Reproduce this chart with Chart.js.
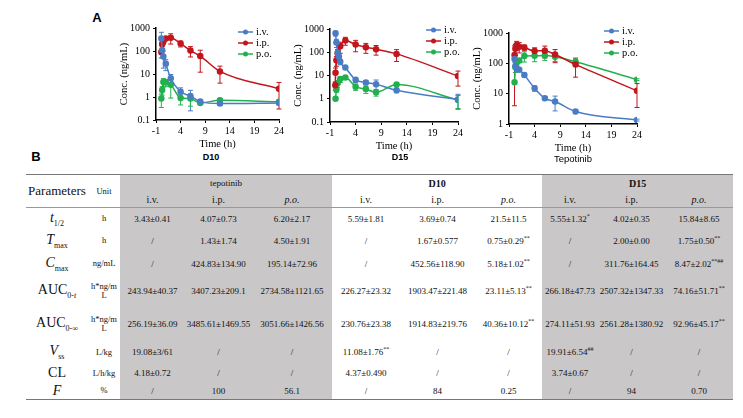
<!DOCTYPE html>
<html>
<head>
<meta charset="utf-8">
<script src="https://cdn.jsdelivr.net/npm/chart.js@4.4.0/dist/chart.umd.min.js"></script>
<style>
  body { margin: 0; width: 743px; height: 418px; background: #fff; position: relative; overflow: hidden; font-family: "Liberation Serif", "Times New Roman", serif; }
  canvas { position: absolute; }
  .cap { position: absolute; font-family: "Liberation Sans", Arial, sans-serif; color: #000; transform: translateX(-50%); white-space: nowrap; }
  #tbl { position: absolute; left: 26px; top: 174px; width: 707px; border-collapse: collapse; table-layout: fixed; font-size: 9px; color: #111; }
  #tbl td { padding: 0; text-align: center; vertical-align: middle; white-space: nowrap; }
  #tbl .g { background: #c9c7c8; }
  #tbl .p { font-size: 14px; }
  #tbl .p sub { font-size: 8px; }
  #tbl .u { font-size: 8.5px; line-height: 9px; }
  #tbl sup { font-size: 6px; line-height: 0; }
  #tbl tr.top td { border-top: 1.5px solid #777; }
  #tbl tr.hd td { border-bottom: 1px solid #999; }
  #tbl tr.last td { border-bottom: 1.5px solid #777; }
</style>
</head>
<body>
<div class="cap" style="left:97px;top:10px;font-size:13px;font-weight:bold;">A</div>
<div class="cap" style="left:36px;top:149px;font-size:13px;font-weight:bold;">B</div>
<canvas id="c1" width="175" height="141" style="left:118px;top:10px;"></canvas>
<canvas id="c2" width="180" height="142" style="left:292px;top:11px;"></canvas>
<canvas id="c3" width="180" height="140" style="left:471px;top:15px;"></canvas>
<div class="cap" style="left:211px;top:152px;font-size:9px;font-weight:bold;">D10</div>
<div class="cap" style="left:400px;top:152px;font-size:9px;font-weight:bold;">D15</div>
<div class="cap" style="left:573px;top:153px;font-size:9.5px;">Tepotinib</div>
<table id="tbl"></table>

<script>
// ==============================
// DATOS DE LAS CURVAS
// ==============================
const seriesNames = ["i.v.", "i.p.", "p.o."];
const timeTicks = [-1, 4, 9, 14, 19, 24];
const concTicks = [0.1, 1, 10, 100, 1000];
const concTicksTepo = [1, 10, 100, 1000];

// D10
const d10Time = [0.083, 0.25, 0.5, 1, 2, 4, 6, 8, 12, 24];
const d10IV = [350, 110, 58, 28, 6.5, 1.7, 1.1, 0.63, 0.52, 0.55];
const d10IVsd = [300, 60, 40, 14, 3, 0.8, 0.85, 0.08, 0.08, 0];
const d10IP = [90, 200, 260, 350, 380, 210, 105, 60, 13, 2.3];
const d10IPsd = [20, 40, 60, 60, 180, 60, 50, 48, 9, 2];
const d10PO = [0.85, 2.0, 4.5, 4.3, 3.4, 0.9, 0.85, 0.55, 0.72, 0.62];
const d10POsd = [0.5, 0.8, 1.8, 1.5, 2.5, 0.45, 0.45, 0.08, 0.15, 0];

// D15
const d15TimeIV = [0.083, 0.25, 0.5, 0.75, 1, 2, 4, 6, 8, 12, 24];
const d15IV = [650, 260, 95, 64, 39, 22, 6.5, 5, 4.2, 2.3, 0.95];
const d15IVsd = [150, 100, 30, 20, 10, 3, 1.5, 1, 2.2, 0.5, 0.6];
const d15TimeIP = [0.033, 0.083, 0.25, 0.5, 1, 2, 4, 6, 8, 12, 24];
const d15IP = [3.8, 13, 45, 90, 180, 320, 215, 165, 135, 85, 9.5];
const d15IPsd = [1.5, 8, 20, 40, 90, 120, 110, 75, 60, 45, 6];
const d15TimePO = [0.083, 0.25, 0.5, 1, 2, 4, 6, 8, 12, 24];
const d15PO = [1.0, 2.5, 4.6, 7, 8.2, 3.3, 2.6, 1.9, 4.1, 0.88];
const d15POsd = [0.1, 0.6, 1.5, 2, 1, 1, 0.9, 0.6, 0.4, 0.5];

// Tepotinib
const tepoTime = [0.083, 0.25, 0.5, 1, 2, 4, 6, 8, 12, 24];
const tepoIV = [140, 80, 68, 62, 41, 15, 7, 5.5, 2.6, 1.35];
const tepoIVsd = [30, 15, 10, 8, 6, 3, 0.8, 2.8, 0.4, 0.1];
const tepoIP = [190, 300, 400, 350, 330, 255, 260, 195, 92, 12.5];
const tepoIPsd = [186, 120, 130, 130, 70, 70, 110, 90, 57, 9];
const tepoPO = [24, 75, 105, 125, 175, 178, 180, 165, 113, 29];
const tepoPOsd = [3, 25, 20, 20, 65, 65, 55, 50, 25, 2];

// ==============================
// DATOS DE LA TABLA
// ==============================
const paramLabels = [
  "<i>t</i><sub>1/2</sub>", "<i>T</i><sub>max</sub>", "<i>C</i><sub>max</sub>",
  "AUC<sub>0-<i>t</i></sub>", "AUC<sub>0-∞</sub>", "<i>V</i><sub>ss</sub>", "CL", "<i>F</i>"
];
const unitLabels = ["h", "h", "ng/mL", "h*ng/m<br>L", "h*ng/m<br>L", "L/kg", "L/h/kg", "%"];
const rowT12 = ["3.43±0.41", "4.07±0.73", "6.20±2.17", "5.59±1.81", "3.69±0.74", "21.5±11.5", "5.55±1.32<sup>*</sup>", "4.02±0.35", "15.84±8.65"];
const rowTmax = ["/", "1.43±1.74", "4.50±1.91", "/", "1.67±0.577", "0.75±0.29<sup>**</sup>", "/", "2.00±0.00", "1.75±0.50<sup>**</sup>"];
const rowCmax = ["/", "424.83±134.90", "195.14±72.96", "/", "452.56±118.90", "5.18±1.02<sup>**</sup>", "/", "311.76±164.45", "8.47±2.02<sup>**##</sup>"];
const rowAUCt = ["243.94±40.37", "3407.23±209.1", "2734.58±1121.65", "226.27±23.32", "1903.47±221.48", "23.11±5.13<sup>**</sup>", "266.18±47.73", "2507.32±1347.33", "74.16±51.71<sup>**</sup>"];
const rowAUCinf = ["256.19±36.09", "3485.61±1469.55", "3051.66±1426.56", "230.76±23.38", "1914.83±219.76", "40.36±10.12<sup>**</sup>", "274.11±51.93", "2561.28±1380.92", "92.96±45.17<sup>**</sup>"];
const rowVss = ["19.08±3/61", "/", "/", "11.08±1.76<sup>**</sup>", "/", "/", "19.91±6.54<sup>##</sup>", "/", "/"];
const rowCL = ["4.18±0.72", "/", "/", "4.37±0.490", "/", "/", "3.74±0.67", "/", "/"];
const rowF = ["/", "100", "56.1", "/", "84", "0.25", "/", "94", "0.70"];

// ==============================
// TABLA
// ==============================
const colWidths = [62, 32, 65, 67, 80, 68, 75, 67, 56, 67, 68];
const rowHeights = [22, 22, 24, 31, 34, 23, 19, 17];
const grayCol = i => i < 3 || i > 5;
const filas = [rowT12, rowTmax, rowCmax, rowAUCt, rowAUCinf, rowVss, rowCL, rowF];

let html = "<colgroup>" + colWidths.map(w => `<col style="width:${w}px">`).join("") + "</colgroup>";
html += `<tr class="top" style="height:17px">
  <td rowspan="2" style="font-size:13px;border-bottom:1px solid #999">Parameters</td>
  <td rowspan="2" class="u" style="border-bottom:1px solid #999">Unit</td>
  <td colspan="3" class="g">tepotinib</td>
  <td colspan="3" style="font-weight:bold;font-size:10px">D10</td>
  <td colspan="3" class="g" style="font-weight:bold;font-size:10px">D15</td></tr>`;
html += `<tr class="hd" style="height:16px">` +
  [0, 1, 2, 3, 4, 5, 6, 7, 8].map(i => {
    const n = i % 3 === 2 ? "<i>p.o.</i>" : seriesNames[i % 3];
    return `<td class="${grayCol(i) ? "g" : ""}" style="font-size:10px">${n}</td>`;
  }).join("") + "</tr>";
filas.forEach((fila, r) => {
  html += `<tr class="${r === filas.length - 1 ? "last" : ""}" style="height:${rowHeights[r]}px">
    <td class="p">${paramLabels[r]}</td><td class="u">${unitLabels[r]}</td>` +
    fila.map((v, i) => `<td class="${grayCol(i) ? "g" : ""}">${v}</td>`).join("") + "</tr>";
});
document.getElementById("tbl").innerHTML = html;

// ==============================
// PLUGINS: BARRAS DE ERROR Y LEYENDA
// ==============================
const barrasError = {
  id: "barrasError",
  beforeDatasetsDraw(chart) {
    const ctx = chart.ctx, xs = chart.scales.x, ys = chart.scales.y;
    chart.data.datasets.forEach(ds => {
      ctx.save();
      ctx.strokeStyle = ds.borderColor;
      ctx.lineWidth = 1;
      ds.data.forEach((p, j) => {
        const sd = ds.sd[j];
        if (!sd) return;
        const px = xs.getPixelForValue(p.x);
        const top = ys.getPixelForValue(p.y + sd);
        const lo = p.y - sd;
        const bot = lo > ys.min ? ys.getPixelForValue(lo) : ys.bottom;
        ctx.beginPath();
        ctx.moveTo(px, top); ctx.lineTo(px, bot);
        ctx.moveTo(px - 2.5, top); ctx.lineTo(px + 2.5, top);
        if (lo > ys.min) { ctx.moveTo(px - 2.5, bot); ctx.lineTo(px + 2.5, bot); }
        ctx.stroke();
      });
      ctx.restore();
    });
  }
};

const leyenda = {
  id: "leyenda",
  afterDraw(chart, args, opts) {
    const ctx = chart.ctx, a = chart.chartArea;
    const x0 = a.right - opts.dx;
    chart.data.datasets.forEach((ds, i) => {
      const y = a.top + opts.dy + i * 11;
      ctx.save();
      ctx.strokeStyle = ds.borderColor;
      ctx.fillStyle = ds.borderColor;
      ctx.lineWidth = 1.5;
      ctx.beginPath(); ctx.moveTo(x0, y); ctx.lineTo(x0 + 15, y); ctx.stroke();
      ctx.beginPath(); ctx.arc(x0 + 7.5, y, 2.5, 0, Math.PI * 2); ctx.fill();
      ctx.fillStyle = "#000";
      ctx.font = "10.5px 'Liberation Serif'";
      ctx.textBaseline = "middle";
      ctx.fillText(ds.label, x0 + 18, y);
      ctx.restore();
    });
  }
};

// ==============================
// GRÁFICAS (Chart.js)
// ==============================
const colores = ["#4a7cc4", "#c0161c", "#22b04e"];
const puntos = (t, v) => t.map((x, i) => ({ x, y: v[i] }));

function grafica(id, series, yMin, yMax, yTicks, ley) {
  new Chart(document.getElementById(id), {
    type: "line",
    data: {
      datasets: series.map((s, i) => ({
        label: seriesNames[i],
        data: puntos(s.t, s.v),
        sd: s.sd,
        borderColor: colores[i],
        backgroundColor: colores[i],
        borderWidth: 1.5,
        pointRadius: 2.5,
        pointHoverRadius: 2.5,
        cubicInterpolationMode: "monotone"
      }))
    },
    options: {
      responsive: false,
      animation: false,
      devicePixelRatio: 1,
      layout: { padding: { top: 18, right: 14, left: 0, bottom: 0 } },
      plugins: { legend: { display: false }, tooltip: { enabled: false }, leyenda: ley },
      scales: {
        x: {
          type: "linear", min: -1, max: 24,
          afterBuildTicks: s => { s.ticks = timeTicks.map(v => ({ value: v })); },
          afterFit: s => { s.height = 31; },
          ticks: { color: "#000", font: { family: "Liberation Serif", size: 10 }, padding: 2, maxRotation: 0 },
          grid: { drawOnChartArea: false, drawTicks: true, tickLength: 3, color: "#000" },
          border: { color: "#000", width: 1.5 },
          title: { display: true, text: "Time (h)", color: "#000", font: { family: "Liberation Serif", size: 10.5 }, padding: 0 }
        },
        y: {
          type: "logarithmic", min: yMin, max: yMax,
          afterBuildTicks: s => { s.ticks = yTicks.map(v => ({ value: v })); },
          afterFit: s => { s.width = 38; },
          ticks: { color: "#000", font: { family: "Liberation Serif", size: 10 }, padding: 3, callback: v => String(v) },
          grid: { drawOnChartArea: false, drawTicks: true, tickLength: 3, color: "#000" },
          border: { color: "#000", width: 1.5 },
          title: { display: true, text: "Conc. (ng/mL)", color: "#000", font: { family: "Liberation Serif", size: 10.5 }, padding: 0 }
        }
      }
    },
    plugins: [barrasError, leyenda]
  });
}

grafica("c1", [
  { t: d10Time, v: d10IV, sd: d10IVsd },
  { t: d10Time, v: d10IP, sd: d10IPsd },
  { t: d10Time, v: d10PO, sd: d10POsd }
], 0.1, 1000, concTicks, { dx: 41, dy: 4 });

grafica("c2", [
  { t: d15TimeIV, v: d15IV, sd: d15IVsd },
  { t: d15TimeIP, v: d15IP, sd: d15IPsd },
  { t: d15TimePO, v: d15PO, sd: d15POsd }
], 0.1, 1000, concTicks, { dx: 32, dy: 1 });

grafica("c3", [
  { t: tepoTime, v: tepoIV, sd: tepoIVsd },
  { t: tepoTime, v: tepoIP, sd: tepoIPsd },
  { t: tepoTime, v: tepoPO, sd: tepoPOsd }
], 1, 1000, concTicksTepo, { dx: 33, dy: -2 });
</script>
</body>
</html>
